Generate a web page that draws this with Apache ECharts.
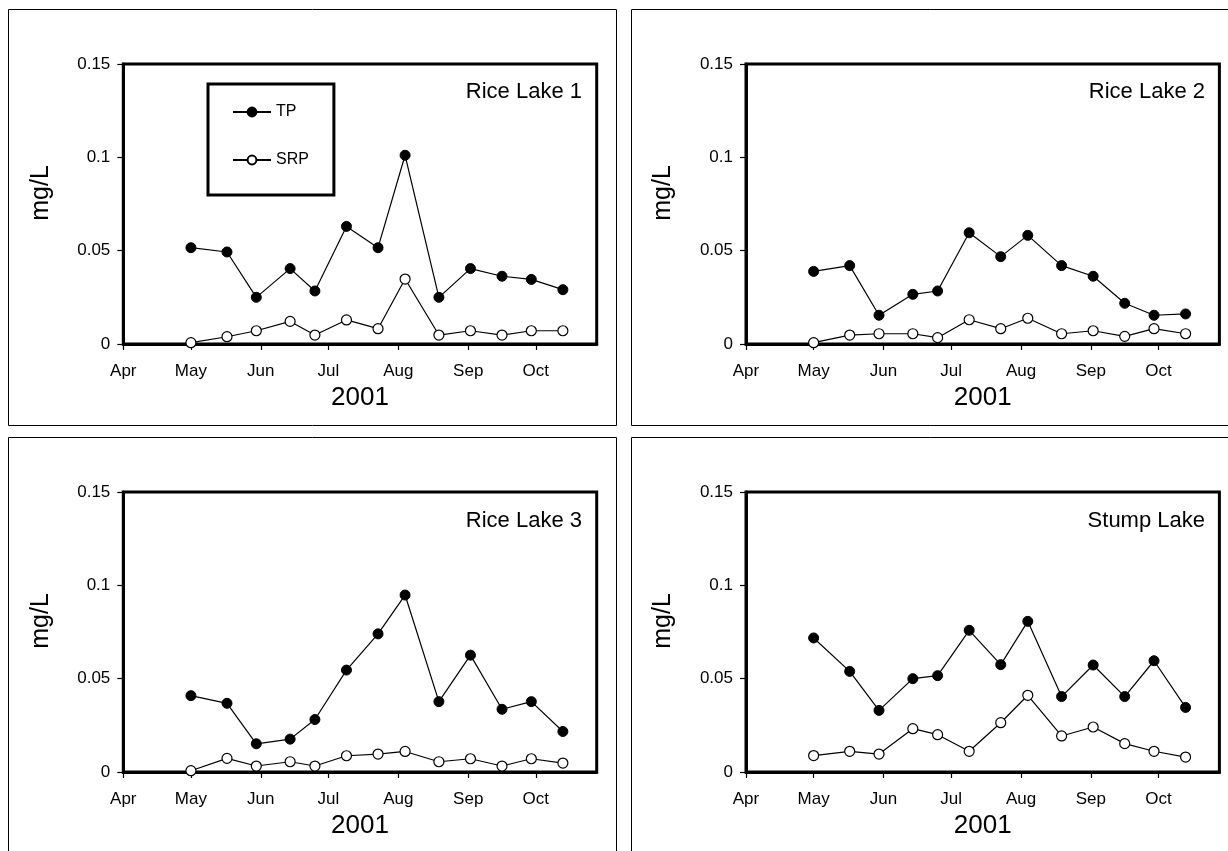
<!DOCTYPE html>
<html><head><meta charset="utf-8">
<script src="https://cdn.jsdelivr.net/npm/echarts@6/dist/echarts.min.js"></script>
<style>html,body{margin:0;padding:0;background:#fff}#c{width:1228px;height:851px}</style>
</head><body><div id="c"></div>
<script>
// ---- data ----
const sampleDates = ['2001-05-01','2001-05-17','2001-05-30','2001-06-14','2001-06-25','2001-07-09','2001-07-23','2001-08-04','2001-08-19','2001-09-02','2001-09-16','2001-09-29','2001-10-13'];
const monthStarts = ['2001-04-01','2001-05-01','2001-06-01','2001-07-01','2001-08-01','2001-09-01','2001-10-01'];
const monthLabels = ['Apr','May','Jun','Jul','Aug','Sep','Oct'];
const axisStart = '2001-04-01';
const axisEnd = '2001-10-28';
const yTicks = [0, 0.05, 0.1, 0.15];
const lakeNames = ['Rice Lake 1','Rice Lake 2','Rice Lake 3','Stump Lake'];
const yearLabel = '2001';
const unitLabel = 'mg/L';

const tp1  = [0.0516,0.0493,0.0250,0.0404,0.0284,0.0630,0.0516,0.1011,0.0250,0.0404,0.0363,0.0346,0.0291];
const srp1 = [0.0007,0.0039,0.0071,0.0121,0.0048,0.0129,0.0082,0.0348,0.0048,0.0071,0.0048,0.0071,0.0071];
const tp2  = [0.0389,0.0420,0.0154,0.0266,0.0284,0.0596,0.0468,0.0582,0.0420,0.0363,0.0218,0.0154,0.0161];
const srp2 = [0.0007,0.0048,0.0055,0.0055,0.0034,0.0130,0.0082,0.0138,0.0055,0.0071,0.0041,0.0082,0.0055];
const tp3  = [0.0409,0.0368,0.0151,0.0176,0.0281,0.0546,0.0740,0.0948,0.0377,0.0626,0.0336,0.0377,0.0217];
const srp3 = [0.0007,0.0073,0.0032,0.0055,0.0032,0.0087,0.0096,0.0110,0.0055,0.0071,0.0032,0.0071,0.0048];
const tp4  = [0.0718,0.0539,0.0330,0.0500,0.0516,0.0759,0.0575,0.0807,0.0404,0.0573,0.0404,0.0596,0.0346];
const srp4 = [0.0088,0.0111,0.0096,0.0232,0.0200,0.0111,0.0264,0.0411,0.0193,0.0241,0.0152,0.0111,0.0080];

const tpSets = [tp1, tp2, tp3, tp4];
const srpSets = [srp1, srp2, srp3, srp4];

// ---- build ----
const DAY = 86400000;
const t0 = Date.UTC(2001, 0, 1);
const dayNum = s => { const p = s.split('-').map(Number); return Math.round((Date.UTC(p[0], p[1] - 1, p[2]) - t0) / DAY); };
const monthDays = monthStarts.map(dayNum);
const FONT = '"Liberation Sans", Arial, sans-serif';

const grids = [
  {left: 123.3, top: 64, width: 473.4, height: 280},
  {left: 746, top: 64, width: 473.4, height: 280},
  {left: 123.3, top: 492, width: 473.4, height: 280},
  {left: 746, top: 492, width: 473.4, height: 280}
];
const titlePos = [
  {right: 646, top: 81},
  {right: 23, top: 81},
  {right: 646, top: 510},
  {right: 23, top: 510}
];

const option = {
  animation: false,
  backgroundColor: '#fff',
  textStyle: {fontFamily: FONT},
  grid: grids.map(g => Object.assign({show: true, borderColor: '#000', borderWidth: 3, backgroundColor: 'transparent'}, g)),
  title: lakeNames.map((n, i) => ({
    text: n, right: titlePos[i].right, top: titlePos[i].top, padding: 0,
    textStyle: {fontFamily: FONT, fontSize: 22, fontWeight: 'normal', color: '#000'}
  })),
  legend: {
    data: ['TP', 'SRP'],
    orient: 'vertical',
    left: 208, top: 84,
    padding: [20, 25, 27, 24],
    itemWidth: 38, itemHeight: 11, itemGap: 32,
    borderColor: '#000', borderWidth: 3,
    textStyle: {fontFamily: FONT, fontSize: 16, color: '#000'}
  },
  xAxis: grids.map((g, i) => ({
    type: 'value', gridIndex: i,
    min: dayNum(axisStart), max: dayNum(axisEnd),
    name: yearLabel, nameLocation: 'middle', nameGap: 41,
    nameTextStyle: {fontFamily: FONT, fontSize: 26, color: '#000'},
    axisLine: {lineStyle: {color: '#000', width: 3}},
    axisTick: {show: true, length: 6, lineStyle: {color: '#000', width: 1.2}, customValues: monthDays},
    axisLabel: {customValues: monthDays, margin: 19, fontFamily: FONT, fontSize: 17, color: '#000',
      formatter: v => monthLabels[monthDays.indexOf(Math.round(v))] || ''},
    splitLine: {show: false}
  })),
  yAxis: grids.map((g, i) => ({
    type: 'value', gridIndex: i, min: yTicks[0], max: yTicks[yTicks.length - 1], interval: 0.05,
    name: unitLabel, nameLocation: 'middle', nameGap: 70, nameRotate: 90,
    nameTextStyle: {fontFamily: FONT, fontSize: 25, color: '#000', padding: [0, 0, 0, 22]},
    axisLine: {show: true, lineStyle: {color: '#000', width: 3}},
    axisTick: {show: true, length: 6, lineStyle: {color: '#000', width: 1.2}},
    axisLabel: {margin: 13, fontFamily: FONT, fontSize: 17, color: '#000', padding: [0, 0, 4, 0],
      formatter: v => String(+Number(v).toFixed(2))},
    splitLine: {show: false}
  })),
  series: [],
  graphic: [
    {type: 'rect', shape: {x: 8.5, y: 9.5, width: 608, height: 416}, style: {fill: 'none', stroke: '#000', lineWidth: 1}, silent: true, z: -1},
    {type: 'rect', shape: {x: 631.5, y: 9.5, width: 620, height: 416}, style: {fill: 'none', stroke: '#000', lineWidth: 1}, silent: true, z: -1},
    {type: 'rect', shape: {x: 8.5, y: 437.5, width: 608, height: 430}, style: {fill: 'none', stroke: '#000', lineWidth: 1}, silent: true, z: -1},
    {type: 'rect', shape: {x: 631.5, y: 437.5, width: 620, height: 430}, style: {fill: 'none', stroke: '#000', lineWidth: 1}, silent: true, z: -1}
  ]
};

for (let i = 0; i < 4; i++) {
  option.series.push({
    name: 'TP', type: 'line', xAxisIndex: i, yAxisIndex: i,
    data: sampleDates.map((d, k) => [dayNum(d), tpSets[i][k]]),
    symbol: 'circle', symbolSize: 10,
    lineStyle: {color: '#000', width: 1.2},
    itemStyle: {color: '#000', borderColor: '#000', borderWidth: 1}
  });
  option.series.push({
    name: 'SRP', type: 'line', xAxisIndex: i, yAxisIndex: i,
    data: sampleDates.map((d, k) => [dayNum(d), srpSets[i][k]]),
    symbol: 'circle', symbolSize: 10,
    lineStyle: {color: '#000', width: 1.2},
    itemStyle: {color: '#fff', borderColor: '#000', borderWidth: 1.2}
  });
}

const chart = echarts.init(document.getElementById('c'), null, {renderer: 'canvas'});
chart.setOption(option);
</script>
</body></html>
